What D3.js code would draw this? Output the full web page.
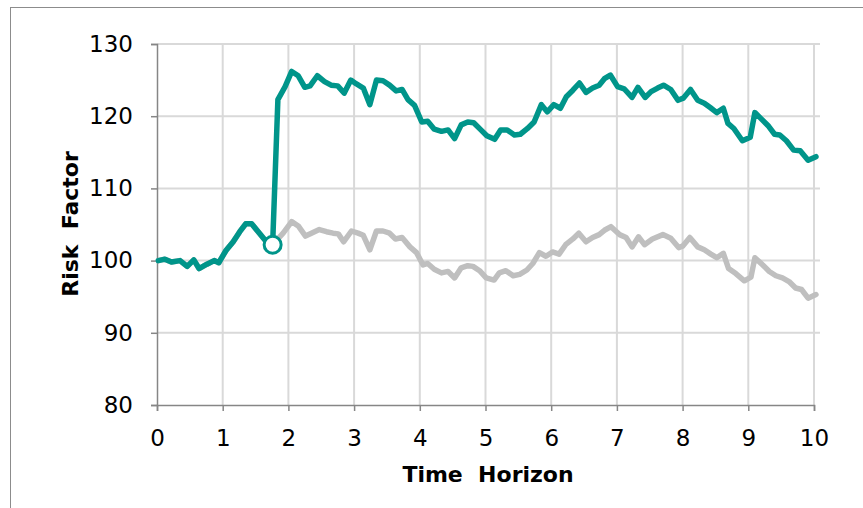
<!DOCTYPE html>
<html>
<head>
<meta charset="utf-8">
<script src="https://cdn.jsdelivr.net/npm/d3@7"></script>
<style>
  html, body { margin: 0; padding: 0; background: #fff; }
  svg { display: block; }
  text { font-family: "DejaVu Sans", Verdana, sans-serif; fill: #000; }
</style>
</head>
<body>
<svg id="chart" width="863" height="508"></svg>
<script>
// Shared path before the event
const baseT = [0.02, 0.12, 0.22, 0.35, 0.46, 0.56, 0.64, 0.76, 0.87, 0.94, 1.05, 1.16, 1.26, 1.35, 1.44, 1.54, 1.64, 1.76];
const baseV = [100.0, 100.2, 99.8, 100.0, 99.2, 100.1, 98.9, 99.5, 100.0, 99.7, 101.4, 102.6, 104.0, 105.1, 105.1, 104.0, 102.9, 102.2];

// Path after the shock (teal)
const shockT = [1.84, 1.95, 2.05, 2.15, 2.25, 2.33, 2.44, 2.55, 2.65, 2.75, 2.85, 2.95, 3.03, 3.14, 3.24, 3.34, 3.44, 3.54, 3.64, 3.73, 3.82, 3.92, 4.03, 4.12, 4.22, 4.33, 4.43, 4.53, 4.63, 4.73, 4.82, 4.93, 5.02, 5.14, 5.23, 5.33, 5.44, 5.53, 5.64, 5.74, 5.85, 5.94, 6.04, 6.14, 6.23, 6.33, 6.43, 6.53, 6.63, 6.73, 6.81, 6.90, 7.01, 7.11, 7.23, 7.32, 7.43, 7.52, 7.62, 7.71, 7.82, 7.93, 8.01, 8.12, 8.23, 8.33, 8.42, 8.52, 8.62, 8.69, 8.78, 8.91, 9.03, 9.10, 9.19, 9.31, 9.40, 9.48, 9.58, 9.69, 9.79, 9.91, 10.03];
const shockV = [122.3, 124.1, 126.2, 125.6, 124.0, 124.2, 125.6, 124.8, 124.3, 124.2, 123.2, 125.0, 124.5, 123.9, 121.6, 125.0, 124.9, 124.3, 123.5, 123.7, 122.3, 121.5, 119.2, 119.3, 118.2, 117.9, 118.1, 116.9, 118.8, 119.2, 119.1, 118.1, 117.3, 116.8, 118.1, 118.1, 117.4, 117.5, 118.3, 119.2, 121.6, 120.6, 121.6, 121.1, 122.7, 123.6, 124.6, 123.3, 123.9, 124.3, 125.2, 125.7, 124.1, 123.8, 122.6, 124.0, 122.6, 123.4, 123.9, 124.3, 123.7, 122.2, 122.5, 123.7, 122.2, 121.8, 121.2, 120.5, 121.1, 119.0, 118.3, 116.6, 117.1, 120.5, 119.7, 118.6, 117.5, 117.4, 116.6, 115.3, 115.2, 113.9, 114.4];

// Path without the shock (grey)
const baseT2 = [1.92, 2.05, 2.15, 2.26, 2.35, 2.47, 2.58, 2.68, 2.76, 2.84, 2.96, 3.06, 3.14, 3.24, 3.34, 3.44, 3.54, 3.63, 3.73, 3.85, 3.95, 4.05, 4.12, 4.22, 4.33, 4.43, 4.53, 4.63, 4.73, 4.81, 4.91, 5.01, 5.13, 5.21, 5.31, 5.42, 5.52, 5.63, 5.72, 5.82, 5.92, 6.02, 6.12, 6.22, 6.33, 6.42, 6.53, 6.63, 6.73, 6.81, 6.91, 7.04, 7.14, 7.23, 7.33, 7.42, 7.54, 7.70, 7.82, 7.94, 8.00, 8.11, 8.23, 8.33, 8.43, 8.52, 8.62, 8.70, 8.81, 8.94, 9.04, 9.10, 9.22, 9.32, 9.42, 9.52, 9.62, 9.72, 9.81, 9.91, 10.03];
const baseV2 = [103.8, 105.4, 104.8, 103.4, 103.8, 104.3, 104.0, 103.8, 103.7, 102.6, 104.1, 103.8, 103.5, 101.5, 104.1, 104.1, 103.8, 103.0, 103.2, 101.9, 101.1, 99.4, 99.6, 98.8, 98.3, 98.5, 97.6, 99.0, 99.3, 99.2, 98.6, 97.6, 97.3, 98.3, 98.6, 97.9, 98.1, 98.7, 99.6, 101.1, 100.6, 101.2, 100.9, 102.2, 103.0, 103.8, 102.6, 103.2, 103.6, 104.2, 104.7, 103.6, 103.2, 101.9, 103.3, 102.2, 103.0, 103.6, 103.1, 101.8, 102.0, 103.2, 101.9, 101.5, 100.9, 100.4, 101.0, 98.9, 98.2, 97.2, 97.7, 100.4, 99.4, 98.5, 97.9, 97.6, 97.1, 96.2, 96.0, 94.8, 95.3];

const xTicks = [0, 1, 2, 3, 4, 5, 6, 7, 8, 9, 10];
const yTicks = [80, 90, 100, 110, 120, 130];
const xTitle = "Time  Horizon";
const yTitle = "Risk  Factor";

const svg = d3.select("#chart");

// outer frame
svg.append("rect")
  .attr("x", 10.5).attr("y", 7.5)
  .attr("width", 870).attr("height", 520)
  .attr("fill", "none").attr("stroke", "#8c8c8c").attr("stroke-width", 1);

const x = d3.scaleLinear().domain([0, 10]).range([157, 814]);
const y = d3.scaleLinear().domain([80, 130]).range([405, 44]);

// grid
const grid = svg.append("g");
grid.selectAll("line.h").data(yTicks.filter(d => d > 80)).join("line")
  .attr("x1", x(0)).attr("x2", x(10) + 6)
  .attr("y1", d => y(d)).attr("y2", d => y(d))
  .attr("stroke", "#d9d9d9").attr("stroke-width", 2);
grid.selectAll("line.v").data(xTicks.filter(d => d > 0)).join("line")
  .attr("x1", d => x(d)).attr("x2", d => x(d))
  .attr("y1", y(130)).attr("y2", y(80))
  .attr("stroke", "#d9d9d9").attr("stroke-width", 2);

// axes
const xAxis = d3.axisBottom(x).tickValues(xTicks).tickSize(6).tickPadding(19).tickFormat(d3.format("d"));
const yAxis = d3.axisLeft(y).tickValues(yTicks).tickSize(6).tickPadding(18).tickFormat(d3.format("d"));

const gx = svg.append("g").attr("transform", `translate(0,${y(80)})`).call(xAxis);
const gy = svg.append("g").attr("transform", `translate(${x(0)},0)`).call(yAxis);
[gx, gy].forEach(g => {
  g.select(".domain").attr("stroke", "#868686").attr("stroke-width", 1.5);
  g.selectAll(".tick line").attr("stroke", "#868686").attr("stroke-width", 1.5);
  g.selectAll(".tick text").attr("font-size", 23).attr("font-family", "DejaVu Sans").attr("fill", "#000");
});

// lines
const line = d3.line().x(d => x(d[0])).y(d => y(d[1]));
const greyPts = d3.zip(baseT.concat(baseT2), baseV.concat(baseV2));
const tealPts = d3.zip(baseT.concat(shockT), baseV.concat(shockV));

svg.append("path").datum(greyPts).attr("d", line)
  .attr("fill", "none").attr("stroke", "#bfbfbf").attr("stroke-width", 5.5)
  .attr("stroke-linejoin", "round").attr("stroke-linecap", "round");
svg.append("path").datum(tealPts).attr("d", line)
  .attr("fill", "none").attr("stroke", "#00958a").attr("stroke-width", 5.5)
  .attr("stroke-linejoin", "round").attr("stroke-linecap", "round");

// event marker
const evT = baseT[baseT.length - 1], evV = baseV[baseV.length - 1];
svg.append("circle").attr("cx", x(evT)).attr("cy", y(evV)).attr("r", 8.5)
  .attr("fill", "#fff").attr("stroke", "#00958a").attr("stroke-width", 3);

// titles
svg.append("text").attr("x", 488).attr("y", 482)
  .attr("text-anchor", "middle").attr("font-size", 22).attr("font-weight", "bold")
  .style("white-space", "pre").text(xTitle);
svg.append("text").attr("transform", "translate(78,224) rotate(-90)")
  .attr("text-anchor", "middle").attr("font-size", 22).attr("font-weight", "bold")
  .style("white-space", "pre").text(yTitle);
</script>
</body>
</html>
